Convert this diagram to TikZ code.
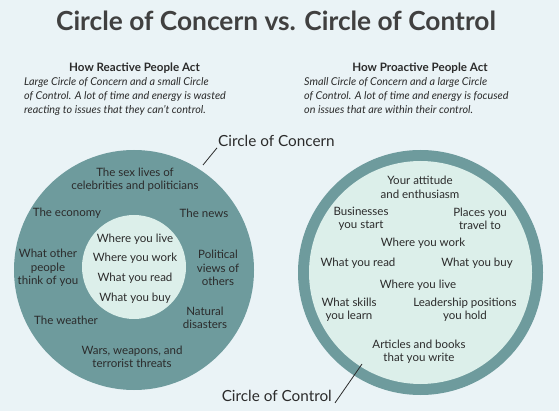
\documentclass[tikz,border=0pt]{standalone}
\usepackage{fontspec}
\setmainfont{Lato}
\definecolor{bgc}{HTML}{EAF3F6}
\definecolor{ring}{HTML}{6E9B9D}
\definecolor{inner}{HTML}{DCEFEA}
\definecolor{txt}{HTML}{2B2B2B}
\begin{document}
\begin{tikzpicture}[x=1pt,y=-1pt,
  lbl/.style={align=center,font=\fontsize{11.5}{13.5}\selectfont,text=txt,inner sep=0pt},
  head/.style={font=\fontsize{11.6}{12}\selectfont\bfseries,text=txt,inner sep=0pt},
  desc/.style={align=left,font=\fontsize{10.8}{13.8}\selectfont\itshape,text=txt,inner sep=0pt,anchor=north west},
  caplabel/.style={font=\fontsize{15.3}{16}\selectfont,text=txt,inner sep=0pt},
  leader/.style={draw=txt,line width=0.8pt}]
\fill[bgc] (0,0) rectangle (559,411);
\useasboundingbox (0,0) rectangle (559,411);
% title
\node[font=\fontsize{26.3}{28}\selectfont\bfseries,text=txt!90,inner sep=0pt] (title) at (276,21) {Circle of Concern vs. Circle of Control};
% headings
\node[head] (h1) at (134.5,68) {How Reactive People Act};
\node[head] (h2) at (420,68) {How Proactive People Act};
\node[desc] (d1) at (24,77.5) {Large Circle of Concern and a small Circle\\of Control. A lot of time and energy is wasted\\reacting to issues that they can't control.};
\node[desc] (d2) at (304,77.5) {Small Circle of Concern and a large Circle\\of Control. A lot of time and energy is focused\\on issues that are within their control.};
% left circle
\node[circle,fill=ring,minimum size=240pt,inner sep=0pt] (cc) at (134,270) {};
\node[circle,fill=inner,minimum size=104pt,inner sep=0pt] (ci) at (134,267) {};
\node[lbl] (a1) at (135,180) {The sex lives of\\celebrities and politicians};
\node[lbl] (a2) at (67,213) {The economy};
\node[lbl] (a3) at (204,213) {The news};
\node[lbl] (a4) at (48,268) {What other\\people\\think of you};
\node[lbl] (a5) at (218,268) {Political\\views of\\others};
\node[lbl] (a6) at (66,320) {The weather};
\node[lbl] (a7) at (205,318) {Natural\\disasters};
\node[lbl] (a8) at (132,357) {Wars, weapons, and\\terrorist threats};
\node[lbl] (b1) at (135,239) {Where you live};
\node[lbl] (b2) at (135,258) {Where you work};
\node[lbl] (b3) at (135,278) {What you read};
\node[lbl] (b4) at (135,298) {What you buy};
% right circle
\node[circle,fill=ring,minimum size=245pt,inner sep=0pt] (rc) at (420.5,272.5) {};
\node[circle,fill=inner,minimum size=223pt,inner sep=0pt] (ri) at (420.5,272.5) {};
\node[lbl] (c1) at (420,187.5) {Your attitude\\and enthusiasm};
\node[lbl] (c2) at (361,219) {Businesses\\you start};
\node[lbl] (c3) at (480,219) {Places you\\travel to};
\node[lbl] (c4) at (423,243) {Where you work};
\node[lbl] (c5) at (358,263) {What you read};
\node[lbl] (c6) at (477,263) {What you buy};
\node[lbl] (c7) at (418,285) {Where you live};
\node[lbl] (c8) at (349,310) {What skills\\you learn};
\node[lbl] (c9) at (465,310) {Leadership positions\\you hold};
\node[lbl] (c10) at (419,352) {Articles and books\\that you write};
% captions
\node[caplabel,anchor=west] (k1) at (218,141) {Circle of Concern};
\node[caplabel,anchor=east] (k2) at (332,396) {Circle of Control};
\coordinate (p1) at (203,165);
\coordinate (p2) at (362,364);
\draw[leader] (p1) -- ([xshift=-1pt,yshift=-1pt]k1.south west);
\draw[leader] (p2) -- ([xshift=3pt,yshift=-1pt]k2.south east);
\end{tikzpicture}
\end{document}
